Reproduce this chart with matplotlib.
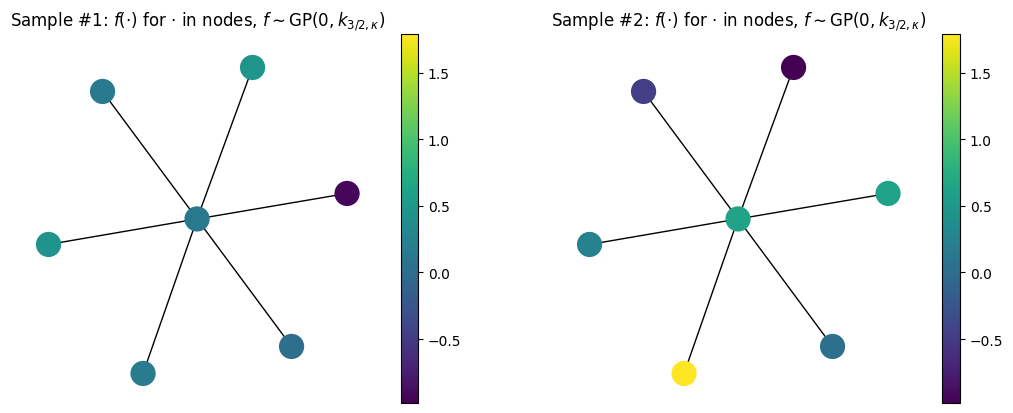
import numpy as np
import matplotlib
matplotlib.use("Agg")
import matplotlib.pyplot as plt
from matplotlib.colors import Normalize
from matplotlib.cm import ScalarMappable

# star graph: node 0 is the hub, nodes 1..6 are leaves
node_x = [0.00, -0.63, 0.37, 1.00, -0.99, -0.36, 0.63]
node_y = [0.00, 0.85, 1.01, 0.17, -0.17, -1.03, -0.85]
edges = [(0, 1), (0, 2), (0, 3), (0, 4), (0, 5), (0, 6)]

# sampled function values per node
sample1 = [0.14, 0.15, 0.46, -0.93, 0.44, 0.17, 0.02]
sample2 = [0.63, -0.48, -0.98, 0.62, 0.24, 1.79, 0.03]

vmin = min(sample1 + sample2)
vmax = max(sample1 + sample2)

W, H = 1013, 414
fig = plt.figure(figsize=(W / 100, H / 100), dpi=100)

def frac(x0, x1, ytop, ybot):
    return [x0 / W, 1 - ybot / H, (x1 - x0) / W, (ybot - ytop) / H]

panels = [
    (sample1, "Sample #1", frac(10, 385, 35, 404), frac(401, 418, 35, 404)),
    (sample2, "Sample #2", frac(551, 926, 35, 404), frac(942, 960, 35, 404)),
]

norm = Normalize(vmin=vmin, vmax=vmax)
for vals, name, ax_rect, cb_rect in panels:
    ax = fig.add_axes(ax_rect)
    for a, b in edges:
        ax.plot([node_x[a], node_x[b]], [node_y[a], node_y[b]], color="black", lw=1, zorder=1)
    ax.scatter(node_x, node_y, c=vals, cmap="viridis", norm=norm, s=330, zorder=2, linewidths=0)
    ax.set_xlim(-1.247, 1.253)
    ax.set_ylim(-1.227, 1.233)
    ax.set_axis_off()
    ax.set_title(name + r": $f(\cdot)$ for $\cdot$ in nodes, $f \sim \mathrm{GP}(0, k_{3/2, \kappa})$",
                 fontsize=12)
    cax = fig.add_axes(cb_rect)
    fig.colorbar(ScalarMappable(norm=norm, cmap="viridis"), cax=cax)

fig.savefig("out.png", dpi=100)
